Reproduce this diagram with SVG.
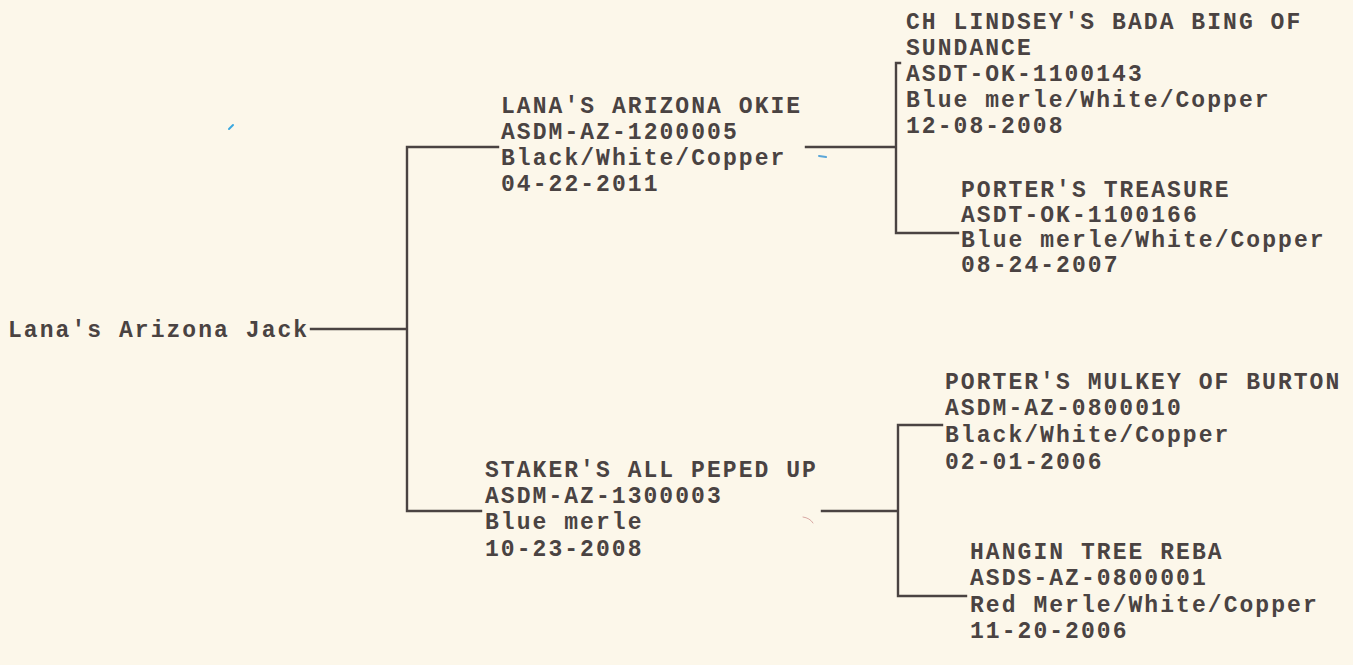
<svg xmlns="http://www.w3.org/2000/svg" width="1353" height="665" viewBox="0 0 1353 665">
<style>
.t{font-family:"Liberation Mono","Courier New",monospace;font-weight:bold;font-size:23px;letter-spacing:2.05px;fill:#4a4342}
.c{fill:none;stroke:#4a4342;stroke-width:2.4;stroke-linecap:square}
</style>
<rect width="1353" height="665" fill="#fcf7ea"/>
<g id="connectors">
<path class="c" d="M311 329 H407 M407 147 V511 M407 147 H498 M407 511 H481"/>
<path class="c" d="M806 147 H896 M900 63 H896 V233 H958"/>
<path class="c" d="M822 511 H898 M942 425 H898 V596 H966"/>
</g>
<g id="root"><text class="t" x="8" y="337">Lana's Arizona Jack</text></g>
<g id="sire">
<text class="t" x="501" y="113">LANA'S ARIZONA OKIE</text>
<text class="t" x="501" y="139">ASDM-AZ-1200005</text>
<text class="t" x="501" y="165">Black/White/Copper</text>
<text class="t" x="501" y="191">04-22-2011</text>
</g>
<g id="sire-sire">
<text class="t" x="906" y="29">CH LINDSEY'S BADA BING OF</text>
<text class="t" x="906" y="55">SUNDANCE</text>
<text class="t" x="906" y="81">ASDT-OK-1100143</text>
<text class="t" x="906" y="107">Blue merle/White/Copper</text>
<text class="t" x="906" y="133">12-08-2008</text>
</g>
<g id="sire-dam">
<text class="t" x="961" y="197">PORTER'S TREASURE</text>
<text class="t" x="961" y="222">ASDT-OK-1100166</text>
<text class="t" x="961" y="247">Blue merle/White/Copper</text>
<text class="t" x="961" y="272">08-24-2007</text>
</g>
<g id="dam">
<text class="t" x="485" y="477">STAKER'S ALL PEPED UP</text>
<text class="t" x="485" y="503">ASDM-AZ-1300003</text>
<text class="t" x="485" y="529">Blue merle</text>
<text class="t" x="485" y="556">10-23-2008</text>
</g>
<g id="dam-sire">
<text class="t" x="945" y="389">PORTER'S MULKEY OF BURTON</text>
<text class="t" x="945" y="415">ASDM-AZ-0800010</text>
<text class="t" x="945" y="442">Black/White/Copper</text>
<text class="t" x="945" y="469">02-01-2006</text>
</g>
<g id="dam-dam">
<text class="t" x="970" y="559">HANGIN TREE REBA</text>
<text class="t" x="970" y="585">ASDS-AZ-0800001</text>
<text class="t" x="970" y="612">Red Merle/White/Copper</text>
<text class="t" x="970" y="638">11-20-2006</text>
</g>
<g id="marks" fill="none" stroke-linecap="round">
<path d="M229 129 L233 125" stroke="#3aa8e0" stroke-width="2"/>
<path d="M819 156 L826 157" stroke="#5aa6d8" stroke-width="2"/>
<path d="M803 517 Q810 518 813 523" stroke="#d9a9a4" stroke-width="1"/>
</g>
</svg>
